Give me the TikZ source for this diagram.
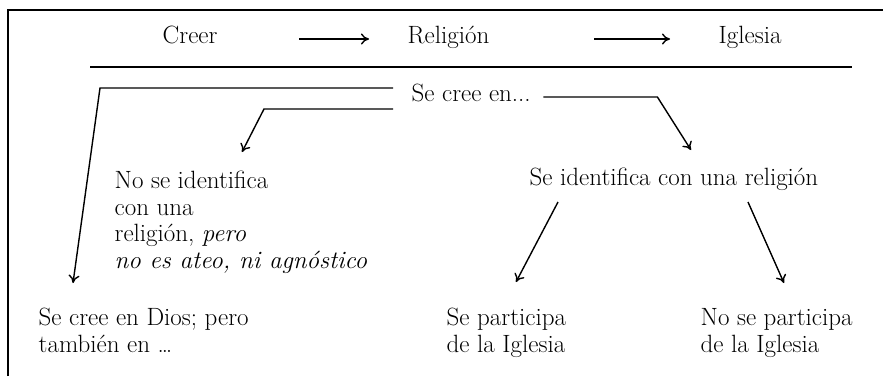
\documentclass[tikz,border=0pt]{standalone}
\usepackage{fontspec}
\usetikzlibrary{arrows.meta}

\begin{document}
\begin{tikzpicture}[x=1pt, y=1pt, line width=1.4pt, >={To[length=8pt,width=11pt]},
    every node/.style={inner sep=0pt, font=\fontsize{25}{26.5}\selectfont},
    txt/.style={anchor=base west},
    blk/.style={anchor=north west, align=left}]
    \useasboundingbox (0,0) rectangle (883,-376);
    \draw (8,-376) -- (8,-10) -- (883,-10);
    \draw (90,-67) -- (852,-67);
    \node[txt] (Creer) at (162,-43) {Creer};
    \node[txt] (Religion) at (407,-43) {Religión};
    \node[txt] (Iglesia) at (718,-43) {Iglesia};
    \node[txt] (Se cree) at (411,-101) {Se cree en...};
    \node[blk] (No Identifica) at (114,-170.6) {No se identifica\\con una\\religión, \textit{pero}\\\textit{no es ateo, ni agnóstico}};
    \node[txt] (Identifica) at (529,-185) {Se identifica con una religión};
    \node[blk] (Dios) at (38,-307.4) {Se cree en Dios; pero\\también en \ldots};
    \node[blk] (Participa) at (446,-307.4) {Se participa\\de la Iglesia};
    \node[blk] (No Participa) at (700,-307.9) {No se participa\\de la Iglesia};
    \draw[->, shorten <=81pt, shorten >=38pt] ([yshift=4pt]Creer.base east) -- ([yshift=4pt]Religion.base west);
    \draw[->, shorten <=104pt, shorten >=48pt] ([yshift=4pt]Religion.base east) -- ([yshift=4pt]Iglesia.base west);
    \draw[->] ([shift={(-18,13)}]Se cree.base west) -- ++(-293,0) -- ([shift={(35,24.4)}]Dios.north west);
    \draw[->] ([shift={(-18,-8)}]Se cree.base west) -- ++(-129,0) -- ([shift={(128,18.6)}]No Identifica.north west);
    \draw[->] ([shift={(12,4)}]Se cree.base east) -- ++(114,0) -- ([shift={(162,35)}]Identifica.base west);
    \draw[->] ([shift={(29,-17)}]Identifica.base west) -- ([shift={(70,25.4)}]Participa.north west);
    \draw[->] ([shift={(219,-17)}]Identifica.base west) -- ([shift={(84,24.9)}]No Participa.north west);
\end{tikzpicture}
\end{document}
